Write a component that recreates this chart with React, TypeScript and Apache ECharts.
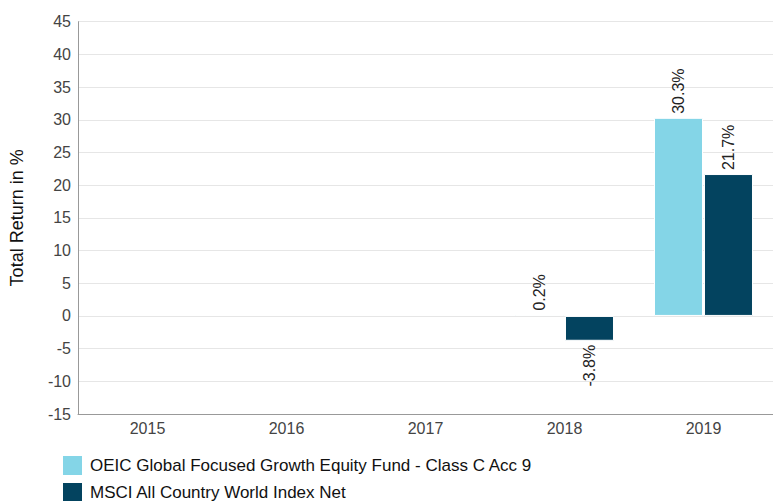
import React, { useEffect, useRef } from "react";
import * as echarts from "echarts";

const categories = ["2015", "2016", "2017", "2018", "2019"];
const fundName = "OEIC Global Focused Growth Equity Fund - Class C Acc 9";
const indexName = "MSCI All Country World Index Net";
const fundValues: (number | null)[] = [null, null, null, 0.2, 30.3];
const indexValues: (number | null)[] = [null, null, null, -3.8, 21.7];
const yMin = -15;
const yMax = 45;
const yInterval = 5;

const FONT = "Liberation Sans, Arial, sans-serif";

function toData(vals: (number | null)[]) {
  return vals.map((v) =>
    v === null
      ? null
      : {
          value: v,
          label: { align: v >= 0 ? "left" : "right" },
        }
  );
}

export default function App() {
  const ref = useRef<HTMLDivElement>(null);
  useEffect(() => {
    if (!ref.current) return;
    const chart = echarts.init(ref.current, null, { renderer: "svg" });
    const labelCfg = {
      show: true,
      position: "outside",
      rotate: 90,
      distance: 4,
      verticalAlign: "middle",
      color: "#222",
      fontFamily: FONT,
      fontSize: 16,
      formatter: (p: any) => `${p.value}%`,
    };
    chart.setOption({
      animation: false,
      grid: { left: 69, right: 0, top: 21.7, bottom: 87, containLabel: false },
      legend: {
        orient: "vertical",
        left: 61,
        top: 454,
        height: 80,
        width: 700,
        padding: 0,
        itemWidth: 21,
        itemHeight: 21,
        itemGap: 4,
        icon: "rect",
        textStyle: { fontFamily: FONT, fontSize: 17, color: "#111", padding: [0, 0, 0, 2] },
        data: [fundName, indexName],
      },
      xAxis: {
        type: "category",
        data: categories,
        axisLine: { onZero: false, lineStyle: { color: "#999" } },
        axisTick: { show: false },
        axisLabel: { color: "#444", fontFamily: FONT, fontSize: 16, margin: 6 },
        splitLine: { show: false },
      },
      yAxis: {
        type: "value",
        min: yMin,
        max: yMax,
        interval: yInterval,
        name: "Total Return in %",
        nameLocation: "middle",
        nameGap: 52,
        nameTextStyle: { color: "#111", fontFamily: FONT, fontSize: 18 },
        axisLine: { show: true, lineStyle: { color: "#999" } },
        axisTick: { show: false },
        axisLabel: { color: "#444", fontFamily: FONT, fontSize: 16, margin: 7 },
        splitLine: { lineStyle: { color: "#e6e6e6" } },
      },
      series: [
        {
          name: fundName,
          type: "bar",
          data: toData(fundValues),
          barWidth: 49,
          barGap: "2%",
          itemStyle: { color: "#84d5e7", borderColor: "#fff", borderWidth: 1 },
          label: labelCfg,
        },
        {
          name: indexName,
          type: "bar",
          data: toData(indexValues),
          barWidth: 49,
          barGap: "2%",
          itemStyle: { color: "#03435f", borderColor: "#fff", borderWidth: 1 },
          label: labelCfg,
        },
      ],
    });
    return () => chart.dispose();
  }, []);
  return <div ref={ref} style={{ width: 773, height: 501, position: "absolute", left: 0, top: 0 }} />;
}
